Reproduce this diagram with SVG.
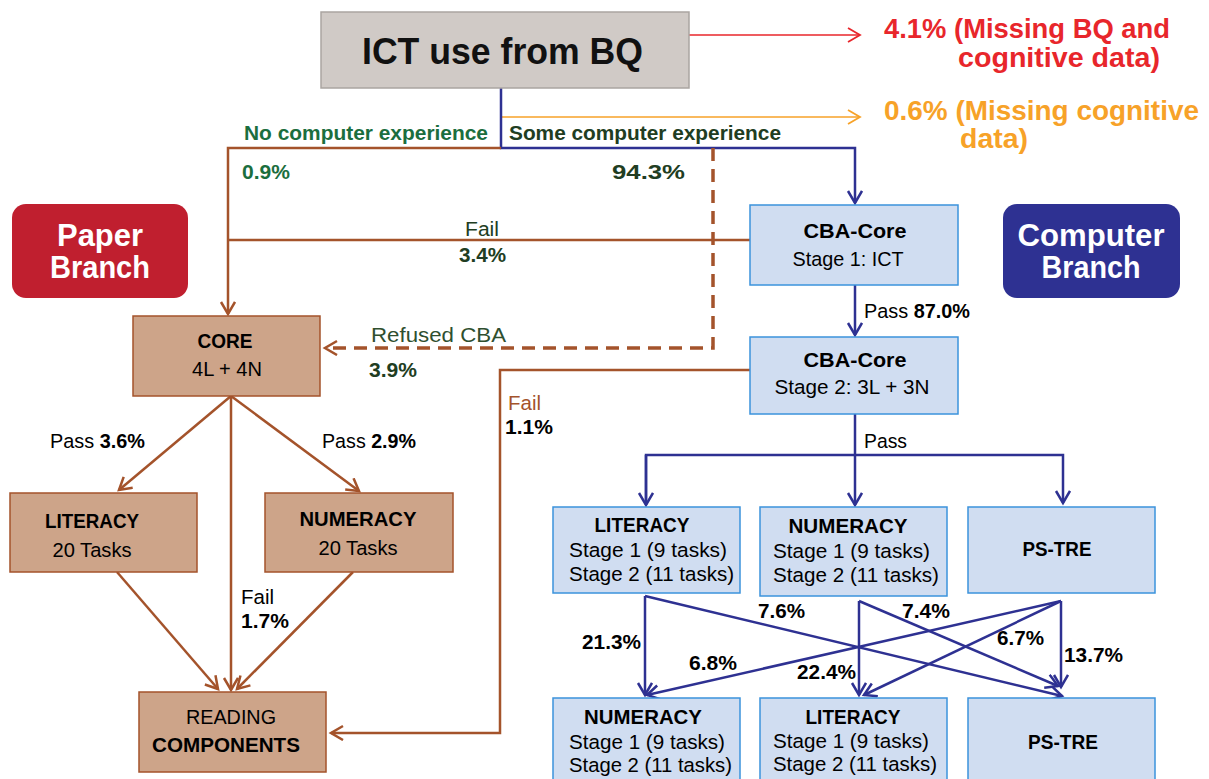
<svg xmlns="http://www.w3.org/2000/svg" width="1209" height="779" viewBox="0 0 1209 779">
<style>
text{font-family:"Liberation Sans",Arial,sans-serif;}
.b{font-weight:bold;}
.brn{stroke:#a4532b;stroke-width:2.5;fill:none;}
.blu{stroke:#2e3192;stroke-width:2.5;fill:none;}
.pbox{fill:#cda489;stroke:#a4532b;stroke-width:1.5;}
.cbox{fill:#d0ddf1;stroke:#3b93dc;stroke-width:1.5;}
.t19{font-size:20.5px;fill:#000;}
.mid{text-anchor:middle;}
</style>
<defs>
<marker id="ab" markerUnits="userSpaceOnUse" markerWidth="16" markerHeight="18" refX="13" refY="8" orient="auto"><path d="M1,1 L13,8 L1,15" fill="none" stroke="#a4532b" stroke-width="2.5"/></marker>
<marker id="au" markerUnits="userSpaceOnUse" markerWidth="16" markerHeight="18" refX="13" refY="8" orient="auto"><path d="M1,1 L13,8 L1,15" fill="none" stroke="#2e3192" stroke-width="2.5"/></marker>
<marker id="ar" markerUnits="userSpaceOnUse" markerWidth="16" markerHeight="18" refX="13" refY="8" orient="auto"><path d="M1,1 L13,8 L1,15" fill="none" stroke="#e8262b" stroke-width="1.8"/></marker>
<marker id="ao" markerUnits="userSpaceOnUse" markerWidth="16" markerHeight="18" refX="13" refY="8" orient="auto"><path d="M1,1 L13,8 L1,15" fill="none" stroke="#f7a228" stroke-width="1.8"/></marker>
</defs>
<rect width="1209" height="779" fill="#fff"/>

<g id="connectors">
<line x1="689" y1="35" x2="860" y2="35" stroke="#e8262b" stroke-width="1.5" marker-end="url(#ar)"/>
<line x1="501" y1="117" x2="860" y2="117" stroke="#f7a228" stroke-width="1.5" marker-end="url(#ao)"/>
<polyline class="blu" points="501,88 501,148 855,148 855,203" marker-end="url(#au)"/>
<polyline class="brn" points="501,148 228,148 228,314" marker-end="url(#ab)"/>
<line class="brn" x1="750" y1="240" x2="228" y2="240"/>
<polyline points="713,148 713,348 325,348" fill="none" stroke="#a4532b" stroke-width="3.5" stroke-dasharray="13,8" marker-end="url(#ab)"/>
<line class="blu" x1="855" y1="285" x2="855" y2="335" marker-end="url(#au)"/>
<polyline class="brn" points="750,370 500,370 500,733 331,733" marker-end="url(#ab)"/>
<polyline class="blu" points="855,414 855,455"/>
<polyline class="blu" points="646,503 646,455 1063,455 1063,503" marker-end="url(#au)"/>
<line class="blu" x1="646" y1="455" x2="646" y2="505" marker-end="url(#au)"/>
<line class="blu" x1="855" y1="455" x2="855" y2="505" marker-end="url(#au)"/>
<line class="brn" x1="231" y1="396" x2="119" y2="490" marker-end="url(#ab)"/>
<line class="brn" x1="231" y1="396" x2="359" y2="491" marker-end="url(#ab)"/>
<line class="brn" x1="231" y1="396" x2="231" y2="690" marker-end="url(#ab)"/>
<line class="brn" x1="117" y1="572" x2="218" y2="689" marker-end="url(#ab)"/>
<line class="brn" x1="353" y1="572" x2="237" y2="689" marker-end="url(#ab)"/>
<line class="blu" x1="645" y1="596" x2="645" y2="695" marker-end="url(#au)"/>
<line class="blu" x1="645" y1="596" x2="1062" y2="696" marker-end="url(#au)"/>
<line class="blu" x1="859" y1="601" x2="859" y2="695" marker-end="url(#au)"/>
<line class="blu" x1="859" y1="601" x2="1058" y2="686" marker-end="url(#au)"/>
<line class="blu" x1="1061" y1="601" x2="647" y2="695" marker-end="url(#au)"/>
<line class="blu" x1="1061" y1="601" x2="864" y2="695" marker-end="url(#au)"/>
<line class="blu" x1="1061" y1="601" x2="1061" y2="687" marker-end="url(#au)"/>
</g>

<g id="labels">
<text x="884" y="38" class="b" font-size="28" fill="#e8262b" textLength="286" lengthAdjust="spacingAndGlyphs">4.1% (Missing BQ and</text>
<text x="958" y="67" class="b" font-size="28" fill="#e8262b" textLength="202" lengthAdjust="spacingAndGlyphs">cognitive data)</text>
<text x="884" y="120" class="b" font-size="28" fill="#f7a228" textLength="315" lengthAdjust="spacingAndGlyphs">0.6% (Missing cognitive</text>
<text x="960" y="148" class="b" font-size="28" fill="#f7a228" textLength="68" lengthAdjust="spacingAndGlyphs">data)</text>
<text x="244" y="140" class="b" font-size="20" fill="#1b6e3e" textLength="244" lengthAdjust="spacingAndGlyphs">No computer experience</text>
<text x="509" y="140" class="b" font-size="20" fill="#213d22" textLength="272" lengthAdjust="spacingAndGlyphs">Some computer experience</text>
<text x="242" y="179" class="b" font-size="20" fill="#1b6e3e" textLength="48" lengthAdjust="spacingAndGlyphs">0.9%</text>
<text x="612" y="179" class="b" font-size="20" fill="#213d22" textLength="73" lengthAdjust="spacingAndGlyphs">94.3%</text>
<text x="465" y="236" font-size="20" fill="#213d22" textLength="34" lengthAdjust="spacingAndGlyphs">Fail</text>
<text x="459" y="262" class="b" font-size="20" fill="#213d22" textLength="47" lengthAdjust="spacingAndGlyphs">3.4%</text>
<text x="371" y="342" font-size="21" fill="#2f4f2f" textLength="135" lengthAdjust="spacingAndGlyphs">Refused CBA</text>
<text x="369" y="377" class="b" font-size="20" fill="#213d22" textLength="48" lengthAdjust="spacingAndGlyphs">3.9%</text>
<text x="864" y="318" class="t19" textLength="106" lengthAdjust="spacingAndGlyphs">Pass <tspan class="b">87.0%</tspan></text>
<text x="508" y="410" font-size="20.5" fill="#a4532b" textLength="33" lengthAdjust="spacingAndGlyphs">Fail</text>
<text x="505" y="434" class="b t19" textLength="48" lengthAdjust="spacingAndGlyphs">1.1%</text>
<text x="864" y="448" class="t19" textLength="43" lengthAdjust="spacingAndGlyphs">Pass</text>
<text x="50" y="448" class="t19" textLength="95" lengthAdjust="spacingAndGlyphs">Pass <tspan class="b">3.6%</tspan></text>
<text x="322" y="448" class="t19" textLength="94" lengthAdjust="spacingAndGlyphs">Pass <tspan class="b">2.9%</tspan></text>
<text x="241" y="604" class="t19" textLength="33" lengthAdjust="spacingAndGlyphs">Fail</text>
<text x="241" y="628" class="b t19" textLength="48" lengthAdjust="spacingAndGlyphs">1.7%</text>
<text x="582" y="649" class="b t19" textLength="59" lengthAdjust="spacingAndGlyphs">21.3%</text>
<text x="758" y="618" class="b t19" textLength="47" lengthAdjust="spacingAndGlyphs">7.6%</text>
<text x="902" y="618" class="b t19" textLength="48" lengthAdjust="spacingAndGlyphs">7.4%</text>
<text x="997" y="645" class="b t19" textLength="47" lengthAdjust="spacingAndGlyphs">6.7%</text>
<text x="689" y="670" class="b t19" textLength="48" lengthAdjust="spacingAndGlyphs">6.8%</text>
<text x="797" y="679" class="b t19" textLength="59" lengthAdjust="spacingAndGlyphs">22.4%</text>
<text x="1064" y="662" class="b t19" textLength="59" lengthAdjust="spacingAndGlyphs">13.7%</text>
</g>

<g id="ict">
<rect x="321" y="12" width="368" height="76" fill="#d0cac6" stroke="#aaa5a1" stroke-width="1.5"/>
<text x="362" y="64" class="b" font-size="37" fill="#111" textLength="281" lengthAdjust="spacingAndGlyphs">ICT use from BQ</text>
</g>

<g id="paper-branch">
<rect x="12" y="204" width="176" height="94" rx="14" fill="#c01f2f"/>
<text x="100" y="246" class="b mid" font-size="31" fill="#fff" textLength="86" lengthAdjust="spacingAndGlyphs">Paper</text>
<text x="100" y="278" class="b mid" font-size="31" fill="#fff" textLength="100" lengthAdjust="spacingAndGlyphs">Branch</text>
</g>

<g id="computer-branch">
<rect x="1003" y="204" width="177" height="94" rx="14" fill="#2e3192"/>
<text x="1091" y="246" class="b mid" font-size="31" fill="#fff" textLength="147" lengthAdjust="spacingAndGlyphs">Computer</text>
<text x="1091" y="278" class="b mid" font-size="31" fill="#fff" textLength="99" lengthAdjust="spacingAndGlyphs">Branch</text>
</g>

<g id="cba-core-1">
<rect class="cbox" x="750" y="205" width="208" height="80"/>
<text x="855" y="238" class="b t19 mid" textLength="103" lengthAdjust="spacingAndGlyphs">CBA-Core</text>
<text x="848" y="266" class="t19 mid" textLength="111" lengthAdjust="spacingAndGlyphs">Stage 1: ICT</text>
</g>

<g id="cba-core-2">
<rect class="cbox" x="750" y="337" width="208" height="77"/>
<text x="855" y="367" class="b t19 mid" textLength="103" lengthAdjust="spacingAndGlyphs">CBA-Core</text>
<text x="852" y="394" class="t19 mid" textLength="155" lengthAdjust="spacingAndGlyphs">Stage 2: 3L + 3N</text>
</g>

<g id="core">
<rect class="pbox" x="133" y="316" width="187" height="80"/>
<text x="225" y="348" class="b t19 mid" textLength="55" lengthAdjust="spacingAndGlyphs">CORE</text>
<text x="227" y="376" class="t19 mid" textLength="70" lengthAdjust="spacingAndGlyphs">4L + 4N</text>
</g>

<g id="paper-literacy">
<rect class="pbox" x="10" y="493" width="187" height="79"/>
<text x="92" y="528" class="b t19 mid" textLength="94" lengthAdjust="spacingAndGlyphs">LITERACY</text>
<text x="92" y="557" class="t19 mid" textLength="79" lengthAdjust="spacingAndGlyphs">20 Tasks</text>
</g>

<g id="paper-numeracy">
<rect class="pbox" x="265" y="493" width="188" height="79"/>
<text x="358" y="526" class="b t19 mid" textLength="117" lengthAdjust="spacingAndGlyphs">NUMERACY</text>
<text x="358" y="555" class="t19 mid" textLength="79" lengthAdjust="spacingAndGlyphs">20 Tasks</text>
</g>

<g id="reading-components">
<rect class="pbox" x="139" y="692" width="187" height="80"/>
<text x="231" y="724" class="t19 mid" textLength="90" lengthAdjust="spacingAndGlyphs">READING</text>
<text x="226" y="752" class="b t19 mid" textLength="148" lengthAdjust="spacingAndGlyphs">COMPONENTS</text>
</g>

<g id="cba-literacy-1">
<rect class="cbox" x="553" y="507" width="187" height="86"/>
<text x="642" y="532" class="b t19 mid" textLength="95" lengthAdjust="spacingAndGlyphs">LITERACY</text>
<text x="569" y="557" class="t19" textLength="158" lengthAdjust="spacingAndGlyphs">Stage 1 (9 tasks)</text>
<text x="569" y="581" class="t19" textLength="165" lengthAdjust="spacingAndGlyphs">Stage 2 (11 tasks)</text>
</g>

<g id="cba-numeracy-1">
<rect class="cbox" x="760" y="507" width="187" height="89"/>
<text x="848" y="533" class="b t19 mid" textLength="119" lengthAdjust="spacingAndGlyphs">NUMERACY</text>
<text x="773" y="558" class="t19" textLength="157" lengthAdjust="spacingAndGlyphs">Stage 1 (9 tasks)</text>
<text x="773" y="582" class="t19" textLength="166" lengthAdjust="spacingAndGlyphs">Stage 2 (11 tasks)</text>
</g>

<g id="cba-pstre-1">
<rect class="cbox" x="968" y="507" width="187" height="86"/>
<text x="1057" y="556" class="b t19 mid" textLength="69" lengthAdjust="spacingAndGlyphs">PS-TRE</text>
</g>

<g id="cba-numeracy-2">
<rect class="cbox" x="553" y="698" width="187" height="95"/>
<text x="643" y="724" class="b t19 mid" textLength="118" lengthAdjust="spacingAndGlyphs">NUMERACY</text>
<text x="569" y="749" class="t19" textLength="156" lengthAdjust="spacingAndGlyphs">Stage 1 (9 tasks)</text>
<text x="569" y="772" class="t19" textLength="163" lengthAdjust="spacingAndGlyphs">Stage 2 (11 tasks)</text>
</g>

<g id="cba-literacy-2">
<rect class="cbox" x="760" y="698" width="187" height="95"/>
<text x="853" y="724" class="b t19 mid" textLength="95" lengthAdjust="spacingAndGlyphs">LITERACY</text>
<text x="773" y="748" class="t19" textLength="156" lengthAdjust="spacingAndGlyphs">Stage 1 (9 tasks)</text>
<text x="773" y="771" class="t19" textLength="164" lengthAdjust="spacingAndGlyphs">Stage 2 (11 tasks)</text>
</g>

<g id="cba-pstre-2">
<rect class="cbox" x="968" y="698" width="187" height="95"/>
<text x="1063" y="749" class="b t19 mid" textLength="70" lengthAdjust="spacingAndGlyphs">PS-TRE</text>
</g>
</svg>
